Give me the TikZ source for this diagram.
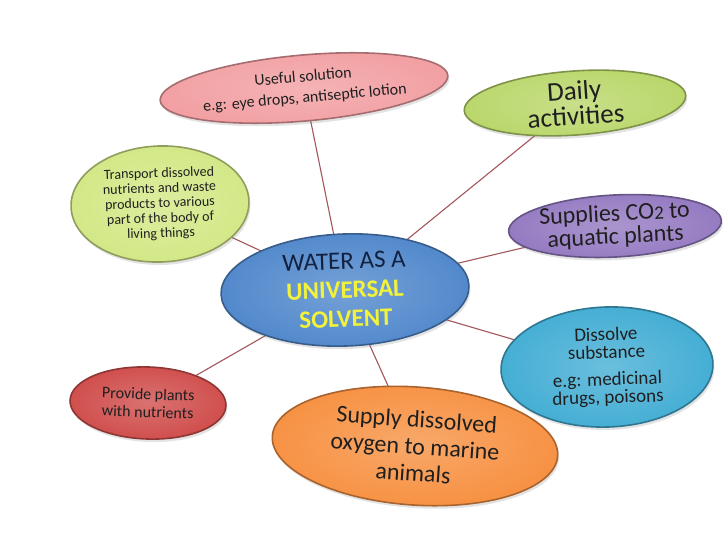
\documentclass[tikz,border=0pt]{standalone}
\usepackage{fontspec}
\setmainfont{Carlito}
\usetikzlibrary{shapes.geometric,backgrounds,shadows}
\definecolor{ctrblue}{HTML}{5289CC}
\definecolor{ctrnavy}{HTML}{13213F}
\definecolor{ctryellow}{HTML}{F2F23A}
\definecolor{usepink}{HTML}{F2A0A3}
\definecolor{dailygreen}{HTML}{BAD76C}
\definecolor{transgreen}{HTML}{D3E887}
\definecolor{copurple}{HTML}{957BC2}
\definecolor{dissblue}{HTML}{45AED4}
\definecolor{provred}{HTML}{D04F4D}
\definecolor{oxyorange}{HTML}{F79244}
\definecolor{linkred}{HTML}{A3565B}

\begin{document}
\begin{tikzpicture}[x=1pt, y=-1pt,
  bubble/.style={ellipse, draw=#1!68!black, line width=1.6pt, inner sep=0pt,
    inner color=#1!80!white, outer color=#1, align=center, text=black!88,
    drop shadow={opacity=0.22, shadow xshift=1.5pt, shadow yshift=-3pt}},
  link/.style={draw=linkred, line width=1.1pt}]
\useasboundingbox (0,0) rectangle (728,546);
\node[bubble=ctrblue, minimum width=248, minimum height=112, rotate=2, text=ctrnavy,
  font=\fontsize{25}{29}\selectfont] (W) at (345, 290)
  {WATER AS A\\ \textcolor{ctryellow}{\bfseries UNIVERSAL}\\ \textcolor{ctryellow}{\bfseries SOLVENT}};
\node[bubble=usepink, minimum width=280, minimum height=66, rotate=5,
  font=\fontsize{16}{21}\selectfont] (U) at (304, 88)
  {Useful solution\\ e.g: eye drops, antiseptic lotion};
\node[bubble=dailygreen, minimum width=222, minimum height=64, rotate=4,
  font=\fontsize{27}{25}\selectfont] (D) at (575, 103) {Daily\\ activities};
\node[bubble=transgreen, minimum width=178, minimum height=116, rotate=2,
  font=\fontsize{14}{15}\selectfont] (T) at (160, 204)
  {Transport dissolved\\ nutrients and waste\\ products to various\\ part of the body of\\ living things};
\node[bubble=copurple, minimum width=204, minimum height=62, rotate=3,
  font=\fontsize{24}{23}\selectfont] (S) at (615, 226)
  {Supplies CO\raisebox{-1pt}{\fontsize{19}{19}\selectfont 2} to\\ aquatic plants};
\node[bubble=dissblue, minimum width=212, minimum height=120, rotate=2,
  font=\fontsize{19}{18}\selectfont] (V) at (607, 367)
  {Dissolve\\ substance\\[9pt] e.g: medicinal\\ drugs, poisons};
\node[bubble=provred, minimum width=156, minimum height=72, rotate=-2,
  font=\fontsize{16}{18}\selectfont] (P) at (148, 403) {Provide plants\\ with nutrients};
\node[bubble=oxyorange, minimum width=286, minimum height=118, rotate=-4,
  font=\fontsize{24}{27}\selectfont] (O) at (415, 446)
  {Supply dissolved\\ oxygen to marine\\ animals};
\begin{pgfonlayer}{background}
\fill[white] (0,0) rectangle (728,546);
\draw[link] (W.center) -- (U.center);
\draw[link] (W.center) -- (D.center);
\draw[link] (W.center) -- (T.center);
\draw[link] (W.center) -- (S.center);
\draw[link] (W.center) -- (V.center);
\draw[link] (W.center) -- (P.center);
\draw[link] (W.center) -- (O.center);
\end{pgfonlayer}
\end{tikzpicture}
\end{document}
